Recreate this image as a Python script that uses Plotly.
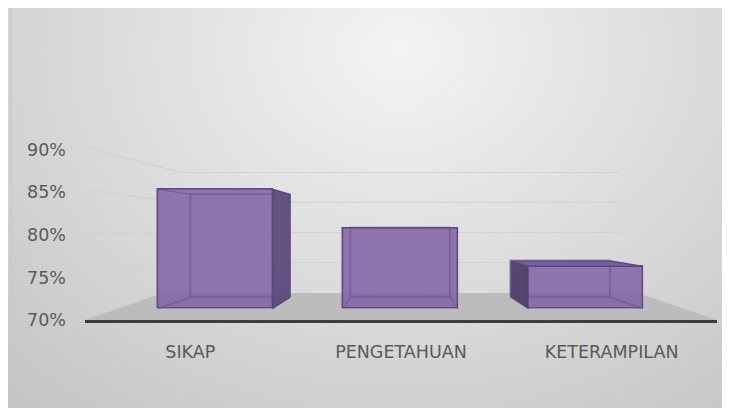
import base64
import struct
import zlib

import numpy as np
import plotly.graph_objects as go

# ---------------- data ----------------
categories = ["SIKAP", "PENGETAHUAN", "KETERAMPILAN"]
values = [85.9, 80.7, 75.6]
tick_values = [70, 75, 80, 85, 90]
tick_labels = ["70%", "75%", "80%", "85%", "90%"]

# ---------------- geometry (pseudo-3D planes, window pixel space) ----------------
OFF = 8                  # page body margin
W, H = 730 - OFF, 408 - OFF
YR = [70, 90]
WALL_YR = [69, 91]
XR = [-0.5, 2.5]
BAR_W = 0.62

# plane = (x_left, x_right, y_at_70, y_at_90)
FRONT = (85, 717, 320, 149.5)          # front plane: labels + axis line
BAR_FRONT = (123, 678, 308.3, 158.6)   # front faces of the boxes
BAR_BACK = (160.5, 640.5, 297.2, 167.8)  # back faces of the boxes
WALL = (181, 621, 292.8, 172.4)        # back wall with gridlines
FLOOR = [(85, 320), (163, 293), (638, 293), (717, 320)]

TEXT = "#595959"
FONT = "DejaVu Sans"
GRID = "#d2d2d2"


def px(x):
    return (x - OFF) / W


def py(y):
    return 1 - (y - OFF) / H


def plane_xy(plane, xi, v):
    x0, x1, y70, y90 = plane
    X = x0 + (xi - XR[0]) / (XR[1] - XR[0]) * (x1 - x0)
    Y = y70 + (v - YR[0]) / (YR[1] - YR[0]) * (y90 - y70)
    return X, Y


def dom(plane, yr=YR):
    x0, x1, _, _ = plane
    _, ylo = plane_xy(plane, XR[0], yr[0])
    _, yhi = plane_xy(plane, XR[0], yr[1])
    return [px(x0), px(x1)], [py(ylo), py(yhi)]


def gradient_png(x0, y0, w, h):
    yy, xx = np.mgrid[0:h, 0:w]
    X = xx + x0
    Y = yy + y0
    d = np.sqrt(((X - 400) / 520.0) ** 2 + ((Y - 50) / 420.0) ** 2)
    c = np.clip(244 - 42 * d, 0, 255).astype(np.uint8)
    raw = b"".join(b"\x00" + c[r].tobytes() for r in range(h))

    def chunk(t, data):
        return (struct.pack(">I", len(data)) + t + data
                + struct.pack(">I", zlib.crc32(t + data) & 0xFFFFFFFF))

    png = (b"\x89PNG\r\n\x1a\n"
           + chunk(b"IHDR", struct.pack(">IIBBBBB", w, h, 8, 0, 0, 0, 0))
           + chunk(b"IDAT", zlib.compress(raw, 9))
           + chunk(b"IEND", b""))
    return "data:image/png;base64," + base64.b64encode(png).decode()


def path(points):
    return "M " + " L ".join(f"{px(x):.5f},{py(y):.5f}" for x, y in points) + " Z"


idx = list(range(len(categories)))

fig = go.Figure()

# wall subplot (xy): only gridlines
fig.add_trace(go.Scatter(x=idx, y=values, mode="markers", marker=dict(opacity=0),
                         hoverinfo="skip", showlegend=False, xaxis="x", yaxis="y"))
# front faces of boxes
fig.add_trace(go.Bar(x=idx, y=[v - YR[0] for v in values], base=YR[0], width=BAR_W,
                     marker=dict(color="rgba(126,96,164,0.84)",
                                 line=dict(color="rgba(98,76,134,1)", width=1.5)),
                     showlegend=False, xaxis="x2", yaxis="y2",
                     hovertext=[f"{v}%" for v in values]))
# back faces (edges only, seen through)
fig.add_trace(go.Bar(x=idx, y=[v - YR[0] for v in values], base=YR[0], width=BAR_W,
                     marker=dict(color="rgba(0,0,0,0)",
                                 line=dict(color="rgba(98,76,134,0.45)", width=1.2)),
                     showlegend=False, hoverinfo="skip", xaxis="x3", yaxis="y3"))
# front plane (labels, axis line)
fig.add_trace(go.Scatter(x=idx, y=[YR[0]] * len(idx), mode="markers",
                         marker=dict(opacity=0), hoverinfo="skip",
                         showlegend=False, xaxis="x4", yaxis="y4"))

shapes = []
# border of chart area
shapes.append(dict(type="rect", xref="paper", yref="paper", x0=px(11), x1=px(731),
                   y0=py(409), y1=py(4), line=dict(color="#c6c6c6", width=1),
                   fillcolor="rgba(0,0,0,0)", layer="below"))
# floor
shapes.append(dict(type="path", xref="paper", yref="paper", path=path(FLOOR),
                   fillcolor="#bcbcbc", line=dict(width=0), layer="below"))
# left wall gridlines
for v in tick_values[1:]:
    x0, y0 = plane_xy(FRONT, XR[0], v)
    x1, y1 = plane_xy(WALL, XR[0], v)
    shapes.append(dict(type="line", xref="paper", yref="paper",
                       x0=px(x0 + 2), y0=py(y0 - 2), x1=px(x1), y1=py(y1),
                       line=dict(color=GRID, width=1.3), layer="below"))

# box side / top faces
hw = BAR_W / 2
for i, v in zip(idx, values):
    FLt = plane_xy(BAR_FRONT, i - hw, v)
    FRt = plane_xy(BAR_FRONT, i + hw, v)
    FLb = plane_xy(BAR_FRONT, i - hw, YR[0])
    FRb = plane_xy(BAR_FRONT, i + hw, YR[0])
    BLt = plane_xy(BAR_BACK, i - hw, v)
    BRt = plane_xy(BAR_BACK, i + hw, v)
    BLb = plane_xy(BAR_BACK, i - hw, YR[0])
    BRb = plane_xy(BAR_BACK, i + hw, YR[0])
    faces = [
        ([FRt, BRt, BRb, FRb], BRt[0] > FRt[0] + 0.5, "rgba(92,74,124,0.95)"),
        ([FLt, BLt, BLb, FLb], BLt[0] < FLt[0] - 0.5, "rgba(78,62,106,0.95)"),
        ([FLt, FRt, BRt, BLt], BLt[1] < FLt[1] - 0.5, "rgba(112,88,152,0.95)"),
        ([FLb, FRb, BRb, BLb], False, None),
    ]
    for pts, visible, col in faces:
        if visible:
            shapes.append(dict(type="path", xref="paper", yref="paper", path=path(pts),
                               fillcolor=col, line=dict(color="rgba(90,70,125,1)", width=1.2),
                               layer="above"))
        else:
            shapes.append(dict(type="path", xref="paper", yref="paper", path=path(pts),
                               fillcolor="rgba(0,0,0,0)",
                               line=dict(color="rgba(98,76,134,0.4)", width=1),
                               layer="above"))

hidden_x = dict(range=XR, showgrid=False, zeroline=False, showline=False,
                showticklabels=False, ticks="", fixedrange=True, automargin=False)
hidden_y = dict(range=YR, showgrid=False, zeroline=False, showline=False,
                showticklabels=False, ticks="", fixedrange=True, automargin=False)

wx, wy = dom(WALL, WALL_YR)
bfx, bfy = dom(BAR_FRONT)
bbx, bby = dom(BAR_BACK)
fx, fy = dom(FRONT)

fig.update_layout(
    template="none",
    width=W, height=H, autosize=False,
    margin=dict(l=0, r=0, t=0, b=0, pad=0, autoexpand=False),
    paper_bgcolor="white", plot_bgcolor="rgba(0,0,0,0)",
    showlegend=False, bargap=0,
    xaxis=dict(hidden_x, domain=wx, anchor="y"),
    yaxis=dict(hidden_y, domain=wy, anchor="x", range=WALL_YR, showgrid=True,
               tickvals=tick_values[1:], gridcolor=GRID, gridwidth=1.3),
    xaxis2=dict(hidden_x, domain=bfx, anchor="y2"),
    yaxis2=dict(hidden_y, domain=bfy, anchor="x2"),
    xaxis3=dict(hidden_x, domain=bbx, anchor="y3"),
    yaxis3=dict(hidden_y, domain=bby, anchor="x3"),
    xaxis4=dict(range=XR, domain=fx, anchor="y4", showgrid=False, zeroline=False,
                showline=True, linecolor="#3d3d3d", linewidth=3,
                tickvals=idx, ticktext=categories, ticks="",
                ticklabelstandoff=14, automargin=False,
                tickfont=dict(family=FONT, size=17.5, color=TEXT), fixedrange=True),
    yaxis4=dict(range=YR, domain=fy, anchor="x4", showgrid=False, zeroline=False,
                showline=False, tickvals=tick_values, ticktext=tick_labels, ticks="",
                ticklabelstandoff=18, automargin=False,
                tickfont=dict(family=FONT, size=17.5, color=TEXT), fixedrange=True),
    shapes=shapes,
    images=[dict(source=gradient_png(OFF, OFF, W, H), xref="paper", yref="paper",
                 x=0, y=1, sizex=1, sizey=1,
                 xanchor="left", yanchor="top", sizing="stretch", layer="below")],
)

fig.write_html("out.html")
